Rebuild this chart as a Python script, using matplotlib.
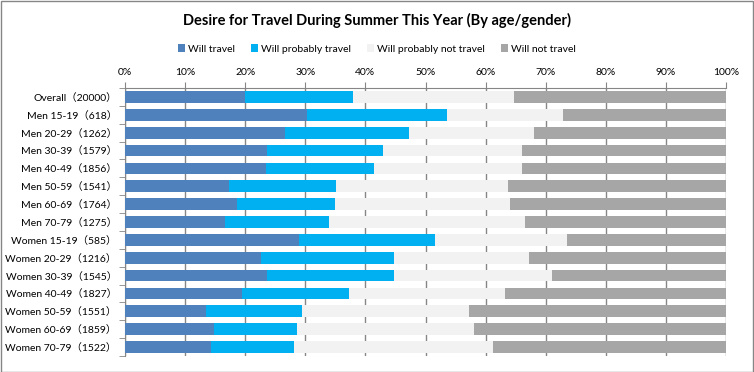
import matplotlib
matplotlib.use('Agg')
import matplotlib.pyplot as plt
import numpy as np
from matplotlib.patches import Rectangle

plt.rcParams['font.family'] = ['Lato', 'Noto Sans CJK SC']

# Data (percent of respondents)
groups = ['Overall（20000）', 'Men 15-19（618）', 'Men 20-29（1262）', 'Men 30-39（1579）',
          'Men 40-49（1856）', 'Men 50-59（1541）', 'Men 60-69（1764）', 'Men 70-79（1275）',
          'Women 15-19（585）', 'Women 20-29（1216）', 'Women 30-39（1545）',
          'Women 40-49（1827）', 'Women 50-59（1551）', 'Women 60-69（1859）',
          'Women 70-79（1522）']
will_travel = [20.0, 30.3, 26.6, 23.7, 23.4, 17.3, 18.7, 16.6, 28.9, 22.7, 23.7, 19.4, 13.4, 14.8, 14.3]
probably_travel = [18.0, 23.2, 20.6, 19.3, 18.0, 17.8, 16.2, 17.3, 22.6, 22.0, 21.0, 17.8, 16.0, 13.8, 13.9]
probably_not = [26.7, 19.3, 20.8, 23.0, 24.6, 28.6, 29.1, 32.6, 22.1, 22.5, 26.3, 26.0, 27.9, 29.5, 33.1]
will_not = [35.3, 27.2, 32.0, 34.0, 34.0, 36.3, 36.0, 33.5, 26.4, 32.8, 29.0, 36.8, 42.7, 41.9, 38.7]

series = [('Will travel', will_travel, '#4F81BD'),
          ('Will probably travel', probably_travel, '#00B0F0'),
          ('Will probably not travel', probably_not, '#F2F2F2'),
          ('Will not travel', will_not, '#A6A6A6')]

fig = plt.figure(figsize=(7.54, 3.72), dpi=100)
ax = fig.add_axes([125 / 754, 1 - 356 / 372, 601 / 754, 268 / 372])

y = np.arange(len(groups))
left = np.zeros(len(groups))
for name, vals, col in series:
    vals = np.array(vals)
    ax.barh(y, vals, left=left, height=0.66, color=col, label=name, zorder=3)
    left += vals

ax.set_xlim(0, 100)
ax.set_ylim(len(groups) - 0.5, -0.5)
ax.set_xticks(np.arange(0, 101, 10))
ax.set_xticklabels([f'{v}%' for v in range(0, 101, 10)], fontsize=7.5)
ax.xaxis.tick_top()
ax.tick_params(axis='x', length=4, color='#868686', pad=4)
ax.grid(axis='x', color='#868686', linewidth=1, zorder=0)

ax.set_yticks(y)
ax.set_yticklabels(groups, fontsize=7.5)
ax.set_yticks(np.arange(len(groups) + 1) - 0.5, minor=True)
ax.tick_params(axis='y', which='major', length=0, pad=6)
ax.tick_params(axis='y', which='minor', length=4, color='#868686')

for s in ['right', 'bottom']:
    ax.spines[s].set_visible(False)
ax.spines['top'].set_color('#868686')
ax.spines['left'].set_color('#868686')

fig.text(0.5, 1 - 20 / 372, 'Desire for Travel During Summer This Year (By age/gender)',
         ha='center', va='center', fontsize=10.5, fontweight='bold')
fig.legend(loc='center', bbox_to_anchor=(0.5, 1 - 49 / 372), ncol=4, frameon=False,
           fontsize=7.5, handlelength=0.7, handleheight=0.7, handletextpad=0.3,
           columnspacing=1.5)

fig.patches.append(Rectangle((0.5 / 754, 0.5 / 372), 1 - 1.5 / 754, 1 - 1.5 / 372,
                             transform=fig.transFigure, fill=False,
                             edgecolor='#868686', linewidth=1))

fig.savefig('out.png', dpi=100)
